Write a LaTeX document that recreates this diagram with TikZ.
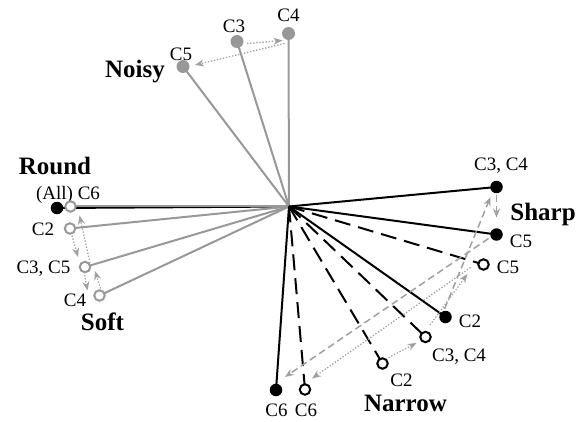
\documentclass[tikz,border=0pt]{standalone}
\usepackage{fontspec}
\setmainfont{Liberation Serif}
\usetikzlibrary{arrows.meta}
\definecolor{lg}{RGB}{152,152,152}
\definecolor{ag}{RGB}{160,160,160}
\pgfdeclarelayer{bg}
\pgfsetlayers{bg,main}
\begin{document}
\begin{tikzpicture}[x=1pt,y=-1pt,
  lab/.style={font=\fontsize{19}{19}\selectfont, inner sep=0pt, anchor=base},
  ttl/.style={font=\fontsize{25}{25}\selectfont\bfseries, inner sep=0pt, anchor=base},
  bdot/.style={circle, fill=black, minimum size=12.5pt, inner sep=0pt},
  odot/.style={circle, draw=black, fill=white, line width=2pt, minimum size=10.5pt, inner sep=0pt},
  gdot/.style={circle, fill=lg, minimum size=13pt, inner sep=0pt},
  godot/.style={circle, draw=lg, fill=white, line width=2pt, minimum size=10.5pt, inner sep=0pt},
  bl/.style={line width=2pt, black},
  bdl/.style={line width=2pt, black, dash pattern=on 16pt off 8pt},
  gl/.style={line width=2pt, lg},
  dotarr/.style={ag, line width=1.3pt, dash pattern=on 1.3pt off 1.8pt, -{Stealth[length=9pt,width=7pt]}},
  dasharr/.style={ag, line width=1.5pt, dash pattern=on 7pt off 4pt, -{Stealth[length=9pt,width=7pt]}},
]
\useasboundingbox (0,0) rectangle (586,422);
\coordinate (O) at (289,206.5);

% ---------- labels ----------
\node[ttl] (tNoisy) at (135,78) {Noisy};
\node[lab] (lN5) at (181,61) {C5};
\node[lab] (lN3) at (234,33) {C3};
\node[lab] (lN4) at (288.5,22) {C4};

\node[ttl] (tRound) at (55,175) {Round};
\node[lab] (lR6) at (68,200) {(All) C6};
\node[lab] (lS2) at (43,235) {C2};
\node[lab] (lS35) at (43.5,273) {C3, C5};
\node[lab] (lS4) at (75,306.5) {C4};
\node[ttl] (tSoft) at (102.5,330) {Soft};

\node[lab] (lF34) at (501,171) {C3, C4};
\node[ttl] (tSharp) at (543,220) {Sharp};
\node[lab] (lF5) at (521,247) {C5};
\node[lab] (lO5) at (508,273) {C5};
\node[lab] (lF2) at (470,327) {C2};
\node[lab] (lO34) at (459,361) {C3, C4};
\node[lab] (lO2) at (401.5,386) {C2};
\node[ttl] (tNarrow) at (405.5,411) {Narrow};
\node[lab] (lF6) at (276.5,416.5) {C6};
\node[lab] (lO6) at (306,416.5) {C6};

% ---------- dots ----------
\node[gdot] (n5) at (183,66.5) {};
\node[gdot] (n3) at (237,41.5) {};
\node[gdot] (n4) at (288.5,33.5) {};

\node[bdot] (rb) at (57,208) {};
\node[godot] (s6) at (70.5,206.5) {};
\node[godot] (s2) at (70,228.5) {};
\node[godot] (s35) at (85,267) {};
\node[godot] (s4) at (99.5,295.5) {};

\node[bdot] (f34) at (496.5,187) {};
\node[bdot] (f5) at (496.5,234.5) {};
\node[bdot] (f2) at (445.5,317) {};
\node[bdot] (f6) at (276,390) {};

\node[odot] (o5) at (483.5,264.5) {};
\node[odot] (o34) at (425.5,337) {};
\node[odot] (o2) at (382.5,363.5) {};
\node[odot] (o6) at (305,389.5) {};

% ---------- spokes ----------
\begin{pgfonlayer}{bg}
\draw[gl] (O) -- (n5.center);
\draw[gl] (O) -- (n3.center);
\draw[gl] (O) -- (n4.center);
\draw[bl] (O) -- (rb.center);
\draw[gl] (O) -- (s6.center);
\draw[gl] (O) -- (s2.center);
\draw[gl] (O) -- (s35.center);
\draw[gl] (O) -- (s4.center);
\draw[bl] (O) -- (f34.center);
\draw[bl] (O) -- (f5.center);
\draw[bl] (O) -- (f2.center);
\draw[bl] (O) -- (f6.center);
\draw[bdl] (O) -- (o5.center);
\draw[bdl] (O) -- (o34.center);
\draw[bdl] (O) -- (o2.center);
\draw[bdl] (O) -- (o6.center);
\end{pgfonlayer}

% ---------- transitions ----------
% Noisy
\draw[dotarr] ([shift={(10,2)}]n3.center) -- ([shift={(-6,7)}]n4.center);
\draw[dotarr] ([shift={(-4,10)}]n4.center) -- ([shift={(12,-1.5)}]n5.center);
% Soft
\draw[dotarr] ([shift={(2,7)}]s2.center) -- ([shift={(-7,-10)}]s35.center);
\draw[dotarr] ([shift={(-1,5)}]s35.center) -- ([shift={(-12,-5)}]s4.center);
\draw[dotarr] ([shift={(2,-4)}]s4.center) -- ([shift={(10,4)}]s35.center);
\draw[dotarr] ([shift={(5,-4)}]s35.center) -- ([shift={(9,9)}]s6.center);
% filled black
\draw[dasharr] ([shift={(-1,-8)}]f2.center) -- ([shift={(-6,10)}]f34.center);
\draw[dasharr] ([shift={(0,8)}]f34.center) -- ([shift={(0,-17)}]f5.center);
\draw[dasharr] ([shift={(-8,4)}]f5.center) -- ([shift={(9,-13)}]f6.center);
% open black
\draw[dotarr] ([shift={(6,-6)}]o2.center) -- ([shift={(-9,6)}]o34.center);
\draw[dotarr] ([shift={(4.5,-12)}]o34.center) -- ([shift={(-16,9.5)}]o5.center);
\draw[dotarr] ([shift={(-13,3)}]o5.center) -- ([shift={(7,-11)}]o6.center);
\end{tikzpicture}
\end{document}
